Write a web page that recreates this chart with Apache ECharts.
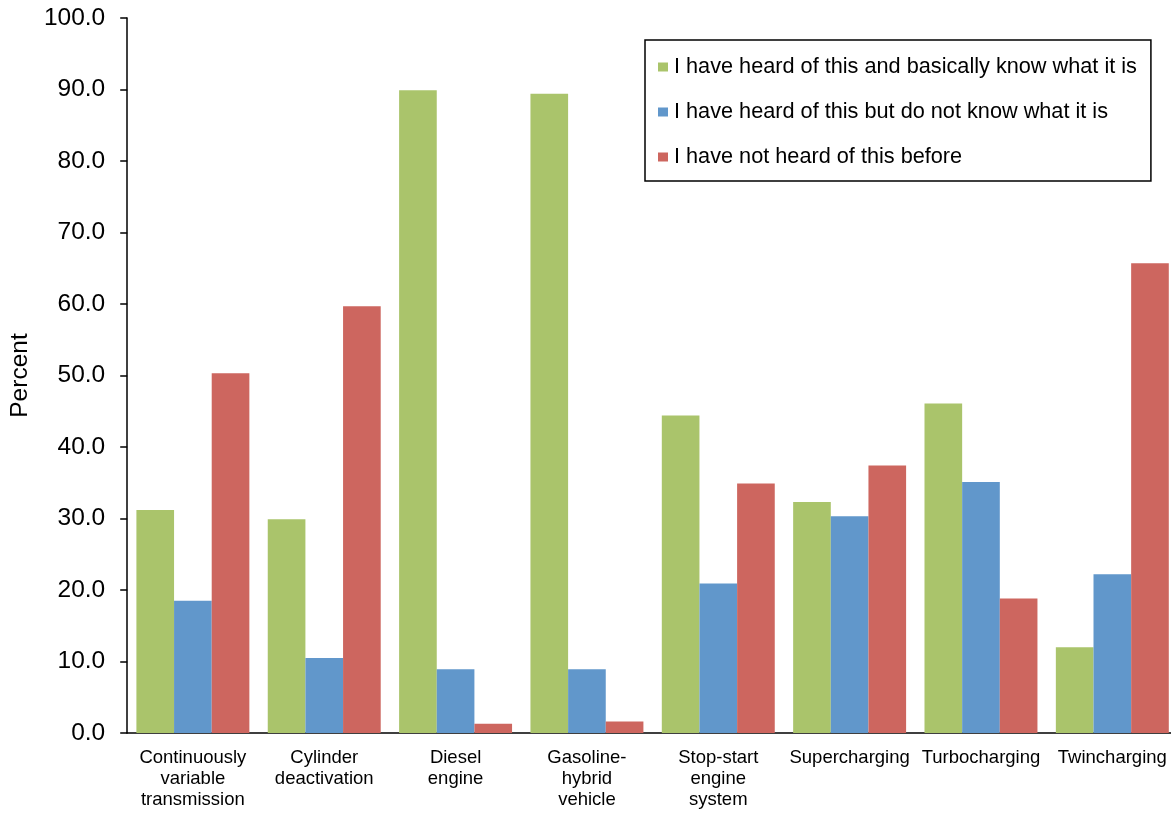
<!DOCTYPE html>
<html>
<head>
<meta charset="utf-8">
<script src="https://cdn.jsdelivr.net/npm/echarts@6/dist/echarts.min.js"></script>
<style>
  html, body { margin: 0; padding: 0; background: #fff; overflow: hidden; }
  /* 圖表略寬於視窗，最後一組長條在右邊被裁切 */
  #chart { width: 1178px; height: 814px; }
</style>
</head>
<body>
<div id="chart"></div>
<script>
// 類別與數值
const categories = [
  "Continuously\nvariable\ntransmission",
  "Cylinder\ndeactivation",
  "Diesel\nengine",
  "Gasoline-\nhybrid\nvehicle",
  "Stop-start\nengine\nsystem",
  "Supercharging",
  "Turbocharging",
  "Twincharging",
];
const seriesNames = [
  "I have heard of this and basically know what it is",
  "I have heard of this but do not know what it is",
  "I have not heard of this before",
];
const knowValues = [31.2, 29.9, 89.9, 89.4, 44.4, 32.3, 46.1, 12.0];
const heardValues = [18.5, 10.5, 8.9, 8.9, 20.9, 30.3, 35.1, 22.2];
const notHeardValues = [50.3, 59.7, 1.3, 1.6, 34.9, 37.4, 18.8, 65.7];
const colors = ["#aac46b", "#6197cb", "#cd665f"];

const chart = echarts.init(document.getElementById("chart"));
const font = "Liberation Sans, Arial, sans-serif";

chart.setOption({
  backgroundColor: "#fff",
  animation: false,
  color: colors,
  grid: { left: 127, top: 18, right: 0, bottom: 81, containLabel: false },
  legend: {
    orient: "vertical",
    left: 645,
    top: 40,
    padding: [16, 14, 13, 13],
    itemGap: 23,
    itemWidth: 10,
    itemHeight: 9,
    icon: "rect",
    borderColor: "#000",
    borderWidth: 1.5,
    textStyle: { fontFamily: font, fontSize: 21.7, color: "#000", padding: [0, 0, 0, 1] },
    data: seriesNames,
  },
  xAxis: {
    type: "category",
    data: categories,
    axisLine: { lineStyle: { color: "#000", width: 1.5 } },
    axisTick: { length: 6, lineStyle: { color: "#000", width: 1.5 } },
    axisLabel: {
      interval: 0,
      margin: 14,
      fontFamily: font,
      fontSize: 18.5,
      lineHeight: 21,
      color: "#000",
    },
  },
  yAxis: {
    type: "value",
    min: 0,
    max: 100,
    interval: 10,
    name: "Percent",
    nameLocation: "middle",
    nameGap: 94,
    nameTextStyle: { fontFamily: font, fontSize: 24.5, color: "#000" },
    splitLine: { show: false },
    axisLine: { show: true, lineStyle: { color: "#000", width: 1.5 } },
    axisTick: { show: true, length: 7, lineStyle: { color: "#000", width: 1.5 } },
    axisLabel: {
      margin: 22,
      fontFamily: font,
      fontSize: 24.5,
      color: "#000",
      formatter: (v) => v.toFixed(1),
    },
  },
  series: [
    { name: seriesNames[0], type: "bar", data: knowValues, barGap: "0%", barCategoryGap: "14%" },
    { name: seriesNames[1], type: "bar", data: heardValues, barGap: "0%", barCategoryGap: "14%" },
    { name: seriesNames[2], type: "bar", data: notHeardValues, barGap: "0%", barCategoryGap: "14%" },
  ],
});
</script>
</body>
</html>
